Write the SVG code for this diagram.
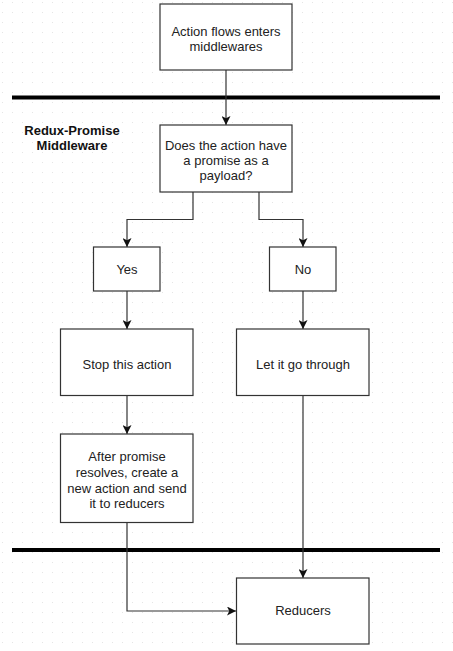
<svg xmlns="http://www.w3.org/2000/svg" width="453" height="651" viewBox="0 0 453 651">
<defs>
<pattern id="grid" width="10" height="10" patternUnits="userSpaceOnUse" x="2" y="2">
<rect x="0" y="0" width="1" height="1" fill="#e4e4e4"/>
</pattern>
<marker id="arr" viewBox="0 0 10 10" refX="10" refY="5" markerWidth="9" markerHeight="9" markerUnits="userSpaceOnUse" orient="auto">
<path d="M0,0 L10,5 L0,10 L2.5,5 Z" fill="#111"/>
</marker>
<style>
.box{fill:#fff;stroke:#333;stroke-width:1.2}
.t{font-family:"Liberation Sans",Arial,sans-serif;font-size:13px;fill:#222;text-anchor:middle}
.b{font-family:"Liberation Sans",Arial,sans-serif;font-size:13px;font-weight:bold;fill:#111;text-anchor:middle}
.c{fill:none;stroke:#333;stroke-width:1.2}
.sep{stroke:#000;stroke-width:4}
</style>
</defs>
<rect width="453" height="651" fill="#fff"/>
<rect width="453" height="651" fill="url(#grid)"/>
<g id="separators">
<line class="sep" x1="12" y1="97.5" x2="440" y2="97.5"/>
<line class="sep" x1="12" y1="550" x2="440" y2="550"/>
</g>
<g id="connectors">
<path class="c" d="M226,70 V125" marker-end="url(#arr)"/>
<path class="c" d="M193,192 V219.5 H127 V247" marker-end="url(#arr)"/>
<path class="c" d="M259,192 V219.5 H303 V247" marker-end="url(#arr)"/>
<path class="c" d="M127,291 V329" marker-end="url(#arr)"/>
<path class="c" d="M303,291 V329" marker-end="url(#arr)"/>
<path class="c" d="M127,395.5 V434" marker-end="url(#arr)"/>
<path class="c" d="M303,395.5 V578" marker-end="url(#arr)"/>
<path class="c" d="M127,522.5 V611 H236" marker-end="url(#arr)"/>
</g>
<g id="label-middleware">
<text class="b" x="72" y="135">Redux-Promise</text>
<text class="b" x="72" y="150">Middleware</text>
</g>
<g id="node-start">
<rect class="box" x="160" y="4" width="132" height="66"/>
<text class="t" x="226" y="36">Action flows enters</text>
<text class="t" x="226" y="51">middlewares</text>
</g>
<g id="node-question">
<rect class="box" x="160" y="125" width="132" height="67"/>
<text class="t" x="226" y="150">Does the action have</text>
<text class="t" x="226" y="165">a promise as a</text>
<text class="t" x="226" y="180">payload?</text>
</g>
<g id="node-yes">
<rect class="box" x="93.5" y="247" width="66.5" height="44"/>
<text class="t" x="127" y="274">Yes</text>
</g>
<g id="node-no">
<rect class="box" x="269.5" y="247" width="66.5" height="44"/>
<text class="t" x="303" y="274">No</text>
</g>
<g id="node-stop">
<rect class="box" x="60.5" y="329" width="132.5" height="66.5"/>
<text class="t" x="127" y="369">Stop this action</text>
</g>
<g id="node-let">
<rect class="box" x="236.5" y="329" width="132.5" height="66.5"/>
<text class="t" x="303" y="369">Let it go through</text>
</g>
<g id="node-after">
<rect class="box" x="60.5" y="434" width="132.5" height="88.5"/>
<text class="t" x="127" y="461">After promise</text>
<text class="t" x="127" y="477">resolves, create a</text>
<text class="t" x="127" y="493">new action and send</text>
<text class="t" x="127" y="508">it to reducers</text>
</g>
<g id="node-reducers">
<rect class="box" x="236.5" y="578" width="132.5" height="66"/>
<text class="t" x="303" y="615">Reducers</text>
</g>
</svg>
